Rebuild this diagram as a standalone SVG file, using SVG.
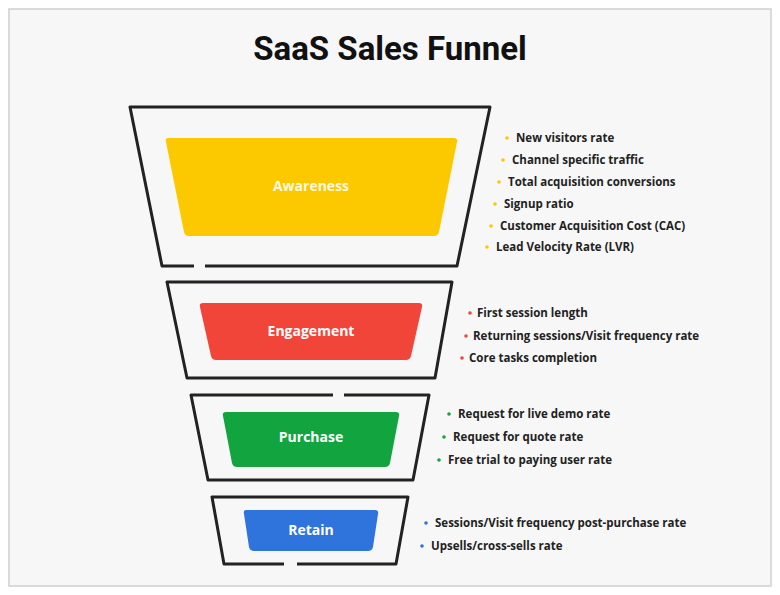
<svg xmlns="http://www.w3.org/2000/svg" width="780" height="595" viewBox="0 0 780 595">
<style>
.o{fill:none;stroke:#222;stroke-width:3;stroke-linejoin:round}
.l{font-family:"Open Sans","Noto Sans",sans-serif;font-weight:bold;font-size:14px;fill:#fff;text-anchor:middle}
.b{font-family:"Open Sans","Noto Sans",sans-serif;font-weight:bold;font-size:11.5px;fill:#222}
</style>
<rect x="0" y="0" width="780" height="595" fill="#fff"/>
<rect x="9" y="9" width="762" height="577" fill="#f7f7f7" stroke="#d0d0d0" stroke-width="1.5"/>
<text x="390" y="60" text-anchor="middle" font-family="Roboto,'Liberation Sans',sans-serif" font-weight="bold" font-size="33" fill="#111">SaaS Sales Funnel</text>
<g id="awareness">
<path class="o" d="M194,266 L162,266 L130,107 L490,107 L457,266 L205,266"/>
<path d="M168,138 L454,138 Q458,138 457,142 L439,232 Q438,236 434,236 L189,236 Q185,236 184,232 L166,142 Q165,138 168,138 Z" fill="#fcc900"/>
<text class="l" x="311" y="191" fill-opacity="0.9">Awareness</text>
<g fill="#fcc900"><circle cx="507" cy="138" r="1.8"/><circle cx="503" cy="160" r="1.8"/><circle cx="499" cy="182" r="1.8"/><circle cx="495" cy="204" r="1.8"/><circle cx="491" cy="226" r="1.8"/><circle cx="487" cy="247" r="1.8"/></g>
<text class="b" x="516" y="142">New visitors rate</text>
<text class="b" x="512" y="164">Channel specific traffic</text>
<text class="b" x="508" y="186">Total acquisition conversions</text>
<text class="b" x="504" y="208">Signup ratio</text>
<text class="b" x="500" y="230">Customer Acquisition Cost (CAC)</text>
<text class="b" x="496" y="251">Lead Velocity Rate (LVR)</text>
</g>
<g id="engagement">
<path class="o" d="M167,282 L452,282 L435,378 L187,378 Z"/>
<path d="M203,303 L419,303 Q423,303 422,307 L411,356 Q410,360 406,360 L216,360 Q212,360 211,356 L200,307 Q199,303 203,303 Z" fill="#f2453a"/>
<text class="l" x="311" y="336">Engagement</text>
<g fill="#f2453a"><circle cx="470" cy="313" r="1.8"/><circle cx="466" cy="336" r="1.8"/><circle cx="462" cy="358" r="1.8"/></g>
<text class="b" x="477" y="317">First session length</text>
<text class="b" x="473" y="340">Returning sessions/Visit frequency rate</text>
<text class="b" x="469" y="362">Core tasks completion</text>
</g>
<g id="purchase">
<path class="o" d="M333,395 L191,395 L208,480 L413,480 L429,395 L344,395"/>
<path d="M226,412 L396,412 Q400,412 399,416 L390,463 Q389,467 385,467 L237,467 Q233,467 232,463 L223,416 Q222,412 226,412 Z" fill="#12a53f"/>
<text class="l" x="311" y="442">Purchase</text>
<g fill="#12a53f"><circle cx="449" cy="414" r="1.8"/><circle cx="444" cy="437" r="1.8"/><circle cx="439" cy="460" r="1.8"/></g>
<text class="b" x="458" y="418">Request for live demo rate</text>
<text class="b" x="453" y="441">Request for quote rate</text>
<text class="b" x="448" y="464">Free trial to paying user rate</text>
</g>
<g id="retain">
<path class="o" d="M284,564 L224,564 L212,497 L408,497 L396,564 L297,564"/>
<path d="M246,510 L375,510 Q379,510 378,514 L373,547 Q372,551 368,551 L254,551 Q250,551 249,547 L244,514 Q243,510 246,510 Z" fill="#2f74dc"/>
<text class="l" x="311" y="535">Retain</text>
<g fill="#2f74dc"><circle cx="426" cy="523" r="1.8"/><circle cx="422" cy="546" r="1.8"/></g>
<text class="b" x="435" y="527">Sessions/Visit frequency post-purchase rate</text>
<text class="b" x="431" y="550">Upsells/cross-sells rate</text>
</g>
<g id="connectors"></g>
</svg>
